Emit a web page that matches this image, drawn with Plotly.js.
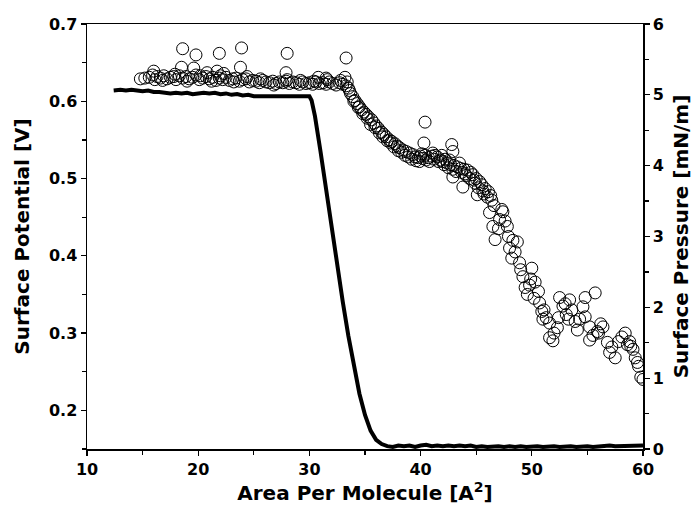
<!DOCTYPE html>
<html>
<head>
<meta charset="utf-8">
<script src="https://cdn.plot.ly/plotly-3.0.1.min.js"></script>
<style>html,body{margin:0;padding:0;background:#fff;}#chart{width:693px;height:510px;}</style>
</head>
<body>
<div id="chart"></div>
<script>
// Surface potential (open circles, left axis)
const potentialArea = [
  14.8,15.6,15.9,16.1,16.3,16.6,16.9,17.2,17.5,17.8,18.0,18.3,18.6,18.9,19.2,19.5,19.8,20.1,20.4,20.7,
  21.0,21.3,21.6,21.9,22.2,22.5,22.8,23.1,23.4,23.7,24.0,24.3,24.6,24.9,25.2,25.5,25.8,26.1,26.4,26.7,
  27.0,27.3,27.6,27.9,28.2,28.5,28.8,29.1,29.4,29.7,30.0,30.3,30.6,30.9,31.2,31.5,31.8,32.1,32.4,32.7,
  33.0,33.3,33.5,
  15.2,16.8,17.9,19.0,20.2,21.2,22.0,23.2,24.4,25.6,26.8,28.0,29.2,30.4,31.6,32.8,33.4,
  18.6,19.8,21.9,23.9,28.0,33.3,
  16.0,18.5,19.6,21.7,23.8,27.9,33.2,31.5,30.8,22.3,20.8,
  33.7,33.9,34.1,34.3,34.5,34.7,34.9,35.1,35.3,35.6,35.8,36.0,36.2,36.5,36.7,36.9,37.2,37.4,37.7,37.9,
  38.1,38.4,38.7,39.0,39.3,39.5,39.8,40.0,40.2,40.4,40.7,41.0,41.2,41.5,41.8,42.0,42.2,42.4,42.7,43.0,
  43.3,43.6,43.9,44.2,44.5,44.7,45.0,45.3,45.5,45.8,46.1,46.3,46.4,46.2,46.5,46.7,47.1,47.4,47.8,47.9,
  48.0,48.2,48.7,48.9,49.2,49.4,49.6,50.0,50.3,50.6,50.7,50.9,51.3,51.6,51.6,52.0,52.3,52.4,52.5,52.8,
  53.1,53.4,53.6,53.9,54.1,54.6,54.8,54.8,55.2,55.2,55.7,55.9,56.2,56.4,56.8,57.0,57.5,57.8,58.1,58.4,
  58.8,59.1,59.3,59.6,59.8,60.0,
  33.6,34.0,34.4,34.8,35.2,35.5,35.9,36.3,36.6,37.0,37.3,37.6,38.0,38.3,38.6,38.9,39.2,39.6,39.9,40.1,
  40.5,40.8,41.3,41.6,42.1,42.5,42.9,43.2,43.7,44.1,44.4,44.9,45.2,45.6,46.0,46.6,47.0,47.6,48.3,48.5,
  49.0,49.8,50.2,51.0,51.9,53.0,54.3,55.5,57.2,58.9,59.5,
  40.4,40.3,42.8,42.9,42.9,43.8,45.1,47.3,41.1,41.9,42.6,43.5,44.0,44.8,45.7,49.9,51.1,53.3,56.0,58.6
];
const potentialV = [
  0.629,0.631,0.634,0.628,0.632,0.630,0.633,0.629,0.631,0.632,0.628,0.633,0.630,0.632,0.629,0.631,0.634,0.628,0.630,0.632,
  0.629,0.631,0.627,0.630,0.628,0.631,0.627,0.629,0.630,0.626,0.628,0.629,0.625,0.627,0.626,0.624,0.627,0.625,0.624,0.626,
  0.623,0.625,0.624,0.626,0.623,0.625,0.624,0.622,0.625,0.623,0.624,0.622,0.625,0.623,0.624,0.622,0.625,0.623,0.621,0.624,
  0.622,0.620,0.617,
  0.630,0.627,0.635,0.626,0.633,0.626,0.633,0.625,0.632,0.629,0.621,0.628,0.627,0.626,0.628,0.627,0.625,
  0.668,0.660,0.662,0.669,0.662,0.656,
  0.639,0.644,0.643,0.639,0.644,0.637,0.631,0.630,0.631,0.636,0.637,
  0.610,0.606,0.601,0.597,0.593,0.589,0.586,0.583,0.580,0.576,0.572,0.568,0.565,0.560,0.557,0.554,0.550,0.548,0.545,0.542,
  0.540,0.537,0.535,0.533,0.531,0.528,0.527,0.529,0.526,0.530,0.527,0.529,0.525,0.528,0.524,0.522,0.525,0.520,0.518,0.517,
  0.515,0.513,0.512,0.511,0.508,0.505,0.500,0.496,0.492,0.487,0.483,0.478,0.472,0.456,0.438,0.421,0.447,0.457,0.438,0.425,
  0.410,0.397,0.418,0.391,0.373,0.359,0.350,0.384,0.366,0.354,0.339,0.328,0.320,0.313,0.294,0.300,0.307,0.320,0.346,0.335,
  0.324,0.343,0.330,0.315,0.304,0.334,0.346,0.321,0.308,0.291,0.352,0.302,0.312,0.308,0.288,0.275,0.268,0.289,0.295,0.300,
  0.289,0.279,0.268,0.257,0.243,0.240,
  0.614,0.600,0.592,0.584,0.578,0.570,0.566,0.559,0.554,0.549,0.546,0.541,0.536,0.534,0.530,0.528,0.525,0.523,0.522,0.532,
  0.524,0.522,0.530,0.522,0.518,0.514,0.512,0.509,0.508,0.504,0.500,0.494,0.488,0.484,0.476,0.465,0.435,0.445,0.420,0.405,
  0.382,0.362,0.345,0.318,0.290,0.338,0.318,0.297,0.282,0.283,0.262,
  0.573,0.546,0.544,0.535,0.502,0.489,0.479,0.460,0.533,0.530,0.524,0.520,0.506,0.498,0.480,0.370,0.330,0.318,0.300,0.285
];

// Surface pressure (solid line, right axis)
const pressureArea = [
  12.4,13.0,13.5,14.0,14.5,15.0,15.5,16.0,16.5,17.0,17.5,18.0,18.5,19.0,19.5,20.0,20.5,21.0,21.5,22.0,
  22.5,23.0,23.5,24.0,24.5,25.0,25.5,26.0,26.5,27.0,27.5,28.0,28.5,29.0,29.5,30.0,30.2,30.5,31.0,31.5,
  32.0,32.5,33.0,33.5,34.0,34.5,35.0,35.5,36.0,36.5,37.0,37.5,38.0,38.5,39.0,39.5,40.0,40.5,41.0,41.5,
  42.0,42.5,43.0,43.5,44.0,44.5,45.0,45.5,46.0,46.5,47.0,47.5,48.0,48.5,49.0,49.5,50.0,50.5,51.0,51.5,
  52.0,52.5,53.0,53.5,54.0,54.5,55.0,55.5,56.0,56.5,57.0,57.5,58.0,58.5,59.0,59.5,60.0
];
const pressureValue = [
  5.06,5.07,5.06,5.07,5.06,5.05,5.06,5.04,5.04,5.03,5.02,5.03,5.02,5.03,5.01,5.02,5.03,5.02,5.03,5.01,
  5.02,5.00,5.01,4.99,5.00,4.98,4.98,4.99,4.98,4.98,4.99,4.98,4.98,4.98,4.98,4.98,4.92,4.70,4.20,3.65,
  3.10,2.58,2.08,1.60,1.15,0.78,0.48,0.26,0.13,0.07,0.04,0.03,0.05,0.04,0.05,0.03,0.05,0.06,0.04,0.05,
  0.04,0.05,0.04,0.05,0.04,0.05,0.03,0.04,0.03,0.04,0.04,0.03,0.04,0.03,0.04,0.03,0.04,0.04,0.03,0.04,
  0.04,0.03,0.04,0.04,0.03,0.04,0.04,0.03,0.04,0.04,0.05,0.04,0.04,0.05,0.05,0.04,0.05
];

const xTickVals = [10,20,30,40,50,60];
const yTickVals = [0.2,0.3,0.4,0.5,0.6,0.7];
const y2TickVals = [0,1,2,3,4,5,6];

const fontFamily = '"DejaVu Sans", "Liberation Sans", Arial, sans-serif';

const traces = [
  {
    x: pressureArea, y: pressureValue, yaxis: 'y2', type: 'scatter', mode: 'lines',
    line: {color: '#000', width: 4}, hoverinfo: 'skip'
  },
  {
    x: potentialArea, y: potentialV, type: 'scatter', mode: 'markers',
    marker: {symbol: 'circle-open', size: 12, color: '#000', line: {width: 1, color: '#000'}},
    hoverinfo: 'skip'
  }
];

const axisCommon = {
  showline: true, linecolor: '#000', linewidth: 1.5,
  ticks: 'outside', ticklen: 5, tickwidth: 1.3, tickcolor: '#000',
  showgrid: false, zeroline: false,
  tickfont: {family: fontFamily, size: 16, color: '#000', weight: 'bold'}
};

const titleFont = {family: fontFamily, size: 20, color: '#000', weight: 'bold'};

const layout = {
  width: 693, height: 510,
  margin: {l: 87, r: 50, t: 24, b: 61},
  paper_bgcolor: '#fff', plot_bgcolor: '#fff',
  showlegend: false,
  xaxis: Object.assign({}, axisCommon, {
    range: [10, 60], tickvals: xTickVals, mirror: true,
    minor: {dtick: 5, tick0: 10, ticks: 'outside', ticklen: 4, tickwidth: 1.2, tickcolor: '#000', showgrid: false},
    title: {text: 'Area Per Molecule [A<sup>2</sup>]', standoff: 4, font: titleFont}
  }),
  yaxis: Object.assign({}, axisCommon, {
    range: [0.15, 0.7], tickvals: yTickVals, tickformat: '.1f',
    minor: {dtick: 0.05, tick0: 0.15, ticks: 'outside', ticklen: 4, tickwidth: 1.2, tickcolor: '#000', showgrid: false},
    title: {text: 'Surface Potential [V]', standoff: 14, font: titleFont}
  }),
  yaxis2: Object.assign({}, axisCommon, {
    range: [0, 6], tickvals: y2TickVals, overlaying: 'y', side: 'right',
    minor: {dtick: 0.5, tick0: 0, ticks: 'outside', ticklen: 4, tickwidth: 1.2, tickcolor: '#000', showgrid: false},
    title: {text: 'Surface Pressure [mN/m]', standoff: 11, font: titleFont}
  })
};

Plotly.newPlot('chart', traces, layout, {staticPlot: true, displayModeBar: false});
</script>
</body>
</html>
